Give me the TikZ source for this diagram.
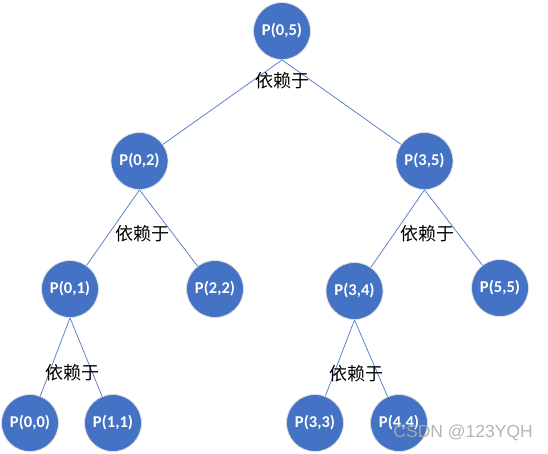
\documentclass[tikz,border=0pt]{standalone}
\usepackage{fontspec}
\setmainfont{Carlito}
\newfontfamily\cjk{Noto Sans CJK SC}
\newfontfamily\wmfont{Liberation Sans}
\definecolor{nodeblue}{HTML}{4472C4}
\definecolor{lineblue}{HTML}{4A76C6}
\begin{document}
\begin{tikzpicture}[x=1pt,y=-1pt,
  pnode/.style={circle, fill=nodeblue, draw=white!75!gray, line width=0.8pt,
    minimum size=57pt, inner sep=0pt, text=white,
    font=\fontsize{16.5}{18}\selectfont\bfseries},
  edge/.style={draw=lineblue, line width=0.7pt},
  dep/.style={font=\cjk\fontsize{18}{20}\selectfont, text=black, inner sep=0pt}]
\useasboundingbox (0,0) rectangle (548,453);
\node[pnode] (p05) at (282,31) {P(0,5)};
\node[pnode] (p02) at (139.5,161) {P(0,2)};
\node[pnode] (p35) at (424.5,161) {P(3,5)};
\node[pnode] (p01) at (70,289) {P(0,1)};
\node[pnode] (p22) at (215,289) {P(2,2)};
\node[pnode] (p34) at (354.5,291) {P(3,4)};
\node[pnode] (p55) at (500,288) {P(5,5)};
\node[pnode] (p00) at (30,423) {P(0,0)};
\node[pnode] (p11) at (113,423) {P(1,1)};
\node[pnode] (p33) at (315,423) {P(3,3)};
\node[pnode] (p44) at (399,423) {P(4,4)};
\draw[edge] (p05.south) -- (p02);
\draw[edge] (p05.south) -- (p35);
\draw[edge] (p02.south) -- (p01);
\draw[edge] (p02.south) -- (p22);
\draw[edge] (p35.south) -- (p34);
\draw[edge] (p35.south) -- (p55);
\draw[edge] (p01.south) -- (p00);
\draw[edge] (p01.south) -- (p11);
\draw[edge] (p34.south) -- (p33);
\draw[edge] (p34.south) -- (p44);
\node[dep] (l05) at (282,81) {依赖于};
\node[dep] (l02) at (142,234) {依赖于};
\node[dep] (l35) at (427,234) {依赖于};
\node[dep] (l01) at (72,373) {依赖于};
\node[dep] (l34) at (356.5,374) {依赖于};
\node[font=\wmfont\fontsize{17.5}{20}\selectfont, text=gray!65, opacity=0.9, inner sep=0pt, anchor=east] (wm) at (533,433) {CSDN @123YQH};
\end{tikzpicture}
\end{document}
